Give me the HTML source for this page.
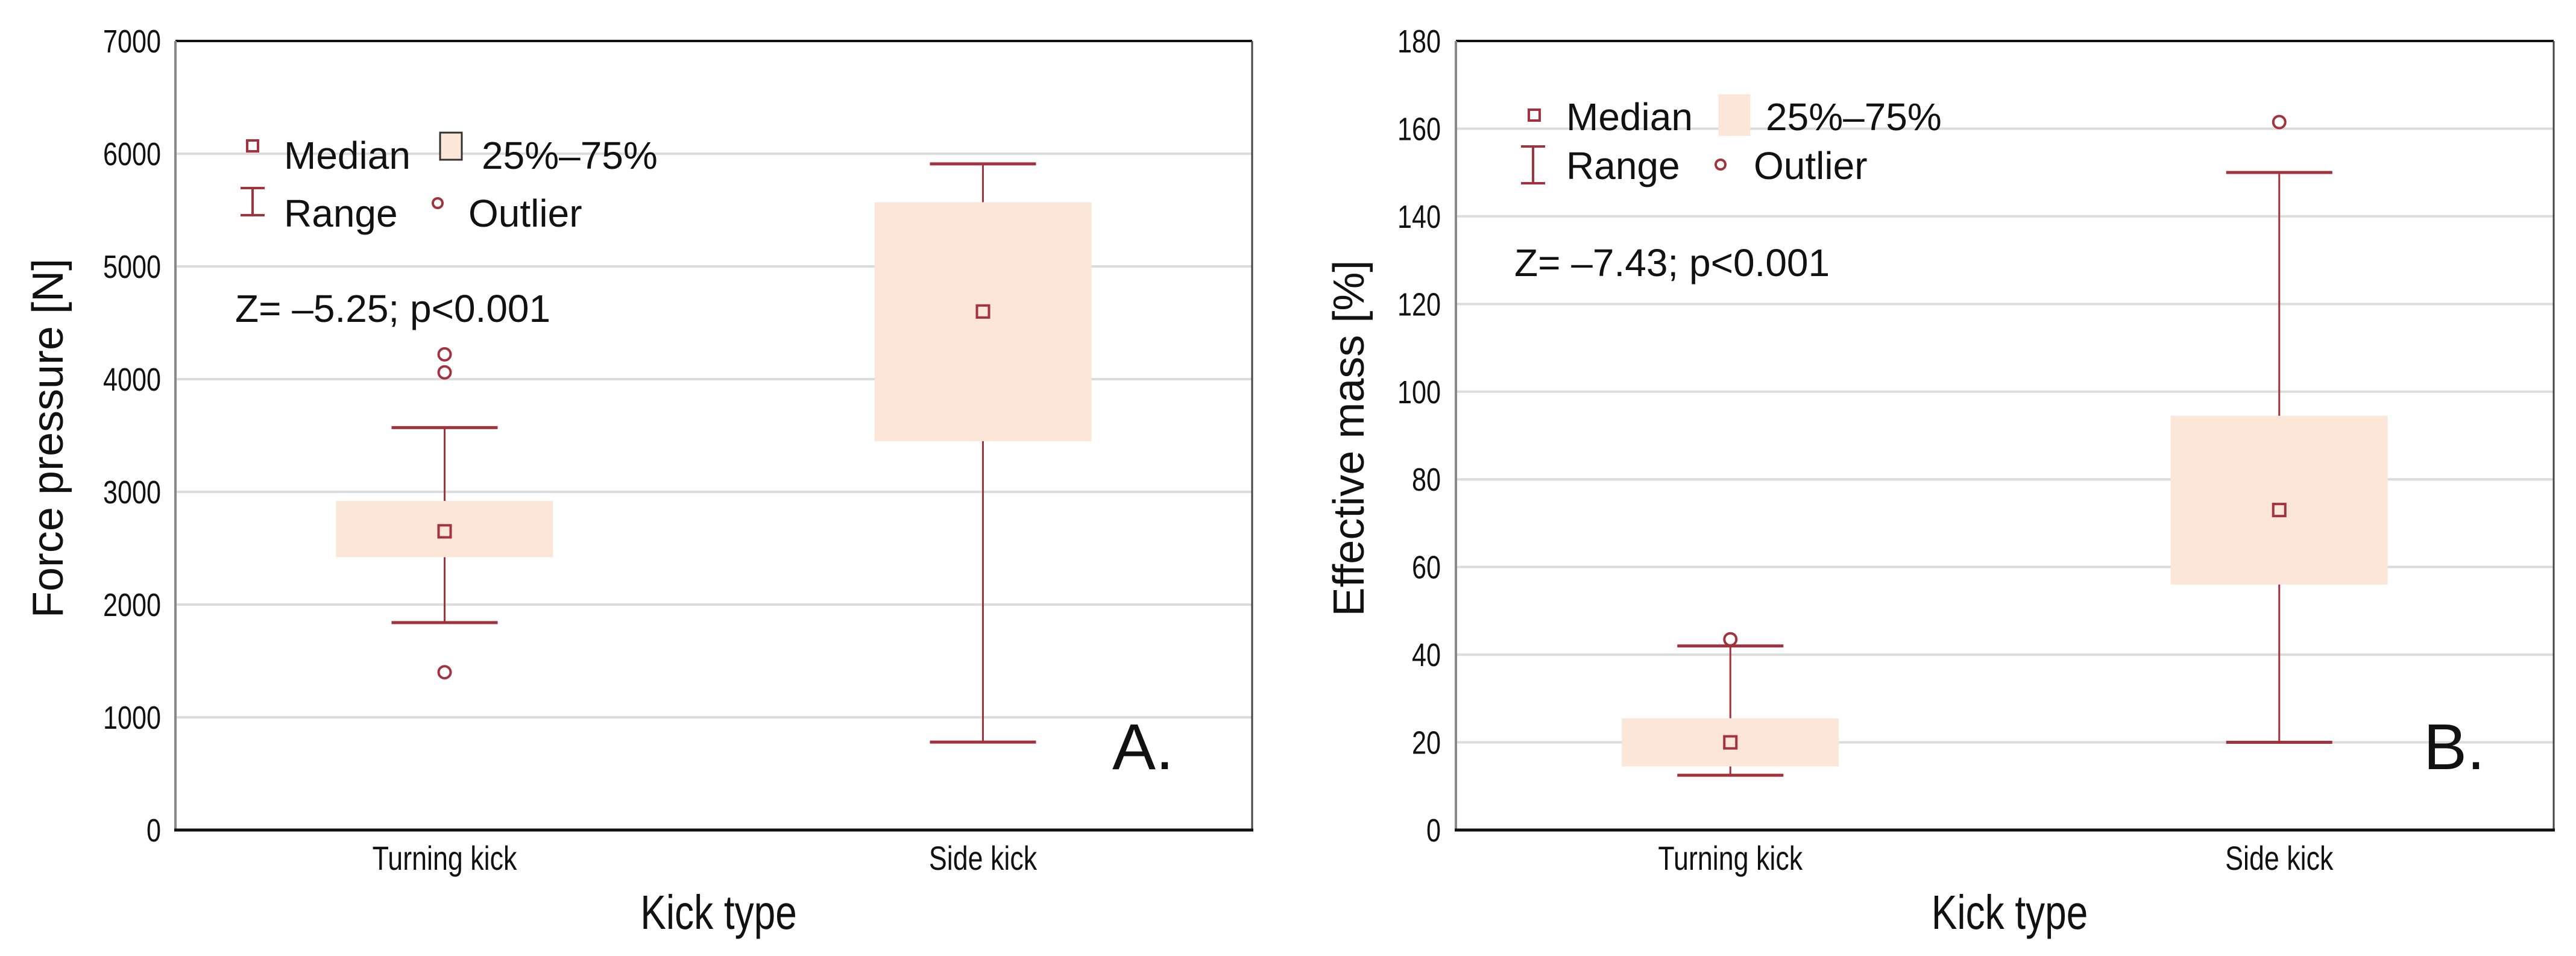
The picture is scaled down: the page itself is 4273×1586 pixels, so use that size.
<!DOCTYPE html>
<html><head><meta charset="utf-8"><style>
html,body{margin:0;padding:0;background:#fff;}
svg{display:block;}
text{font-family:"Liberation Sans",sans-serif;fill:#111;}
</style></head><body>
<svg id="chart" width="4273" height="1586" viewBox="0 0 4273 1586" xmlns="http://www.w3.org/2000/svg"></svg>
<script>
const categories = ["Turning kick", "Side kick"];
// Panel A: Force pressure [N]
const forceTicks = [0,1000,2000,3000,4000,5000,6000,7000];
const forceMin = [1840, 780];
const forceQ1 = [2420, 3450];
const forceMedian = [2650, 4600];
const forceQ3 = [2920, 5570];
const forceMax = [3570, 5910];
const forceOutliers = [[4220, 4060, 1400], []];
// Panel B: Effective mass [%]
const massTicks = [0,20,40,60,80,100,120,140,160,180];
const massMin = [12.5, 20];
const massQ1 = [14.5, 56];
const massMedian = [20, 73];
const massQ3 = [25.5, 94.5];
const massMax = [42, 150];
const massOutliers = [[43.5], [161.5]];

const NS = "http://www.w3.org/2000/svg";
const svg = document.getElementById("chart");
const RED = "#a3323c", FILL = "#fbe6d8";
function mk(tag, attrs, parent, txt){
  const e = document.createElementNS(NS, tag);
  for (const k in attrs) e.setAttribute(k, attrs[k]);
  if (txt !== undefined) e.textContent = txt;
  (parent || svg).appendChild(e);
  return e;
}
function narrow(x, y, anchor, size, parent, txt, sx){
  return mk("text", {x:0, y:0, "text-anchor":anchor, "font-size":size,
    transform:`translate(${x},${y}) scale(${sx||0.8},1)`}, parent, txt);
}

function panel(p){
  const g = mk("g", {});
  
  
  const L=p.L, R=p.R, T=68, B=1377;
  const yMax = p.ticks[p.ticks.length-1];
  const y = v => B - (v / yMax) * (B - T);
  const x = i => L + (R - L) * (0.25 + 0.5 * i);
  p.ticks.forEach(t => {
    if (t > 0 && t < yMax) {
      const gl = mk("line", {x1:L, x2:R, y1:y(t), y2:y(t), stroke:"#dcdcdc", "stroke-width":4}, g);
      
      
    }
    const tl = narrow(p.tickX, y(t)+19, "end", 54, g, String(t));
    
    
  });
  mk("line", {x1:L, x2:R, y1:T, y2:T, stroke:"#111", "stroke-width":4}, g);
  mk("line", {x1:L, x2:L, y1:T, y2:B, stroke:"#888", "stroke-width":4}, g);
  mk("line", {x1:R, x2:R, y1:T, y2:B, stroke:"#444", "stroke-width":3}, g);
  const ax = mk("line", {x1:L-2, x2:R+2, y1:B, y2:B, stroke:"#111", "stroke-width":5}, g);
  
  
  categories.forEach((c, i) => {
    const cx = x(i);
    const bw = 360, cw = 176;
    const wl = mk("line", {x1:cx, x2:cx, y1:y(p.max[i]), y2:y(p.min[i]), stroke:RED, "stroke-width":3}, g);
    
    
    const bx = mk("rect", {x:cx-bw/2, y:y(p.q3[i]), width:bw, height:y(p.q1[i])-y(p.q3[i]), fill:FILL}, g);
    
    
    [p.max[i], p.min[i]].forEach(v => {
      const cap = mk("line", {x1:cx-cw/2, x2:cx+cw/2, y1:y(v), y2:y(v), stroke:RED, "stroke-width":5}, g);
      
      
    });
    const md = mk("rect", {x:cx-10, y:y(p.med[i])-10, width:20, height:20, fill:"none", stroke:RED, "stroke-width":4}, g);
    
    
    p.out[i].forEach(v => {
      const o = mk("circle", {cx:cx, cy:y(v), r:10, fill:"none", stroke:RED, "stroke-width":4}, g);
      
      
    });
    const cl = narrow(cx, 1443, "middle", 56, g, c);
    
    
  });
  const xt = narrow((L+R)/2+8, 1541, "middle", 80, g, "Kick type");
  
  
  const yt = mk("text", {x:0, y:0, "text-anchor":"middle", "font-size":72, transform:`translate(${p.ytX},727) rotate(-90)`}, g, p.ytitle);
  
  
  const lg = p.leg;
  const lgG = mk("g", {}, g);
  
  
  mk("rect", {x:lg.mx-9, y:lg.my-9, width:18, height:18, fill:"none", stroke:RED, "stroke-width":4}, lgG);
  mk("text", {x:lg.tx, y:lg.b1, "font-size":64}, lgG, "Median");
  mk("rect", {x:lg.bx, y:lg.by, width:lg.bw, height:lg.bh, fill:FILL, stroke:p.boxStroke, "stroke-width":3}, lgG);
  mk("text", {x:lg.t2x, y:lg.b1, "font-size":64}, lgG, "25%\u201375%");
  mk("line", {x1:lg.rx, x2:lg.rx, y1:lg.ry1, y2:lg.ry2, stroke:RED, "stroke-width":4}, lgG);
  mk("line", {x1:lg.rx-20, x2:lg.rx+20, y1:lg.ry1, y2:lg.ry1, stroke:RED, "stroke-width":4}, lgG);
  mk("line", {x1:lg.rx-20, x2:lg.rx+20, y1:lg.ry2, y2:lg.ry2, stroke:RED, "stroke-width":4}, lgG);
  mk("text", {x:lg.tx, y:lg.b2, "font-size":64}, lgG, "Range");
  mk("circle", {cx:lg.ox, cy:lg.oy, r:8, fill:"none", stroke:RED, "stroke-width":4}, lgG);
  mk("text", {x:lg.t4x, y:lg.b2, "font-size":64}, lgG, "Outlier");
  const st = mk("text", {x:p.zx, y:p.zy, "font-size":64}, g, p.ztext);
  
  
  const pl = mk("text", {x:p.px, y:1276, "font-size":108}, g, p.plabel);
  
  
}

panel({name:"panel-a-force-pressure", L:291, R:2077, tickX:267, ticks:forceTicks,
  min:forceMin, q1:forceQ1, med:forceMedian, q3:forceQ3, max:forceMax, out:forceOutliers,
  ytitle:"Force pressure [N]", ytX:104, boxStroke:"#333",
  leg:{mx:419, my:242, tx:471, b1:280, bx:730, by:220, bw:36, bh:45, t2x:799,
       rx:419, ry1:312, ry2:357, b2:376, ox:726, oy:337, t4x:777},
  zx:390, zy:534, ztext:"Z= \u20135.25; p<0.001", px:1845, plabel:"A."});

panel({name:"panel-b-effective-mass", L:2415, R:4236, tickX:2390, ticks:massTicks,
  min:massMin, q1:massQ1, med:massMedian, q3:massQ3, max:massMax, out:massOutliers,
  ytitle:"Effective mass [%]", ytX:2262, boxStroke:FILL,
  leg:{mx:2545, my:191, tx:2598, b1:216, bx:2852, by:158, bw:50, bh:66, t2x:2929,
       rx:2543, ry1:243, ry2:304, b2:297, ox:2854, oy:273, t4x:2909},
  zx:2512, zy:458, ztext:"Z= \u20137.43; p<0.001", px:4020, plabel:"B."});
</script>
</body></html>
